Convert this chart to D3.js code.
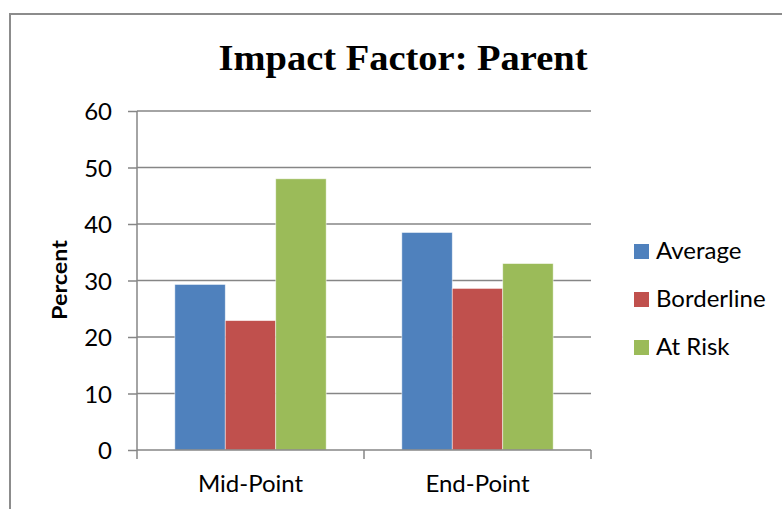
<!DOCTYPE html>
<html><head><meta charset="utf-8">
<script src="https://cdn.jsdelivr.net/npm/d3@7"></script>
<style>html,body{margin:0;padding:0;background:#fff;}</style>
</head><body>
<svg id="c" width="782" height="509"></svg>
<script>
const categories = ["Mid-Point", "End-Point"];
const seriesNames = ["Average", "Borderline", "At Risk"];
const average = [29.3, 38.5];
const borderline = [22.9, 28.6];
const atRisk = [48.0, 33.0];
const yTicks = [0, 10, 20, 30, 40, 50, 60];
const colors = ["#4F81BD", "#C0504D", "#9BBB59"];
const seriesValues = [average, borderline, atRisk];

const svg = d3.select("#c");
const sans = "'Lato', 'Open Sans', sans-serif";
const grid = "#868686";

// outer frame
svg.append("rect").attr("x", 10).attr("y", 14).attr("width", 800).attr("height", 520)
  .attr("fill", "none").attr("stroke", "#8c8c8c").attr("stroke-width", 2);

const pLeft = 137, pRight = 591, pTop = 111, pBottom = 450;
const x = d3.scaleBand().domain(categories).range([pLeft, pRight]).paddingInner(0).paddingOuter(0);
const y = d3.scaleLinear().domain([0, 60]).range([pBottom, pTop]);
// Excel gap width 150%: bar width w, 4.5w = band
const w = x.bandwidth() / 4.5;

// gridlines
svg.append("g").selectAll("line").data(yTicks.filter(d => d > 0)).join("line")
  .attr("x1", pLeft).attr("x2", pRight).attr("y1", d => y(d)).attr("y2", d => y(d))
  .attr("stroke", grid).attr("stroke-width", 1.5);

// bars
categories.forEach((c, ci) => {
  seriesValues.forEach((vals, si) => {
    const bx = x(c) + 0.75 * w + si * w;
    svg.append("rect").attr("x", bx).attr("y", y(vals[ci]))
      .attr("width", w).attr("height", y(0) - y(vals[ci]))
      .attr("fill", colors[si]).attr("stroke", "#fff").attr("stroke-opacity", 0.6).attr("stroke-width", 0.8);
  });
});

// y axis
const yAxis = d3.axisLeft(y).tickValues(yTicks).tickSize(9).tickPadding(16).tickFormat(d3.format("d"));
const ga = svg.append("g").attr("transform", `translate(${pLeft},0)`).call(yAxis);
ga.select(".domain").attr("stroke", grid).attr("stroke-width", 1.5).attr("d", `M0,${pTop}V${pBottom}`);
ga.selectAll(".tick line").attr("stroke", grid).attr("stroke-width", 1.5);
ga.selectAll(".tick text").attr("font-family", sans).attr("font-size", 24).attr("fill", "#000")
  .attr("dy", "0.36em");

// x axis
const xAxis = d3.axisBottom(x).tickSize(0).tickPadding(25);
const gx = svg.append("g").attr("transform", `translate(0,${pBottom})`).call(xAxis);
gx.select(".domain").attr("stroke", grid).attr("stroke-width", 1.5).attr("d", `M${pLeft},0H${pRight}`);
gx.selectAll(".tick text").attr("font-family", sans).attr("font-size", 24).attr("fill", "#000");
// category boundary ticks
const bounds = [pLeft, pLeft + x.bandwidth(), pRight];
gx.append("g").selectAll("line").data(bounds).join("line")
  .attr("x1", d => d).attr("x2", d => d).attr("y1", 0).attr("y2", 9)
  .attr("stroke", grid).attr("stroke-width", 1.5);

// title
svg.append("text").attr("x", 403).attr("y", 70).attr("text-anchor", "middle")
  .attr("font-family", "'Liberation Serif', serif").attr("font-weight", "bold").attr("font-size", 35)
  .attr("textLength", 369).attr("lengthAdjust", "spacingAndGlyphs")
  .text("Impact Factor: Parent");

// y title
svg.append("text").attr("transform", "translate(67,280) rotate(-90)").attr("text-anchor", "middle")
  .attr("font-family", sans).attr("font-weight", "bold").attr("font-size", 21)
  .attr("textLength", 80).attr("lengthAdjust", "spacingAndGlyphs").text("Percent");

// legend
const lg = svg.append("g");
seriesNames.forEach((s, i) => {
  const cy = 251.5 + i * 48;
  lg.append("rect").attr("x", 634).attr("y", cy - 7.5).attr("width", 15).attr("height", 15).attr("fill", colors[i]);
  lg.append("text").attr("x", 656).attr("y", cy + 7)
    .attr("font-family", sans).attr("font-size", 24).text(s);
});
</script>
</body></html>
